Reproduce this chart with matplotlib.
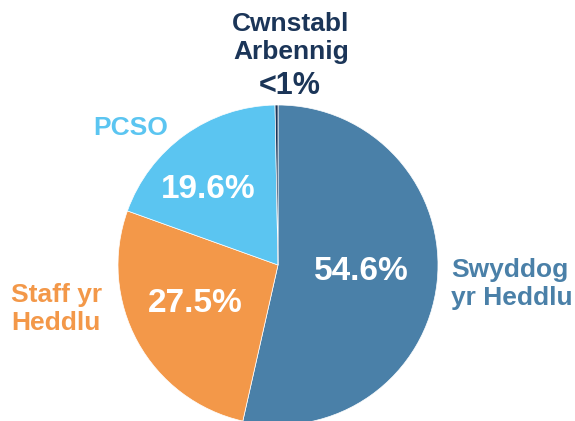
import matplotlib.pyplot as plt

# slice order: clockwise from 12 o'clock
labels = ["Swyddog\nyr Heddlu", "Staff yr\nHeddlu", "PCSO", "Cwnstabl\nArbennig"]
shares = [54.6, 27.5, 19.6, 0.3]
pct_text = ["54.6%", "27.5%", "19.6%", "<1%"]
colors = ["#4a80a8", "#f39849", "#5bc5f1", "#1b3558"]

W, H = 575, 421
fig = plt.figure(figsize=(W / 100, H / 100), dpi=100)
ax = fig.add_axes([0, 0, 1, 1])

cx, cy, r = 278, H - 265, 160
wedges, _ = ax.pie(shares, colors=colors, startangle=90, counterclock=False,
                   center=(cx, cy), radius=r,
                   wedgeprops=dict(linewidth=0.5, edgecolor="white"))
ax.set_xlim(0, W)
ax.set_ylim(0, H)
ax.axis("off")

font = dict(family="Liberation Sans", fontweight="bold")

# percentages inside slices
pct_pos = [(361, 272), (195, 303), (208, 189)]
for (x, y), t in zip(pct_pos, pct_text[:3]):
    ax.text(x, H - y, t, color="white", fontsize=24, ha="center", va="center", **font)

# outside labels
ax.text(291, H - 38, labels[3], color=colors[3], fontsize=19, ha="center",
        va="center", linespacing=1.2, **font)
ax.text(290, H - 86, pct_text[3], color=colors[3], fontsize=22, ha="center",
        va="center", **font)
ax.text(131, H - 128, labels[2], color=colors[2], fontsize=19, ha="center",
        va="center", **font)
ax.text(11, H - 309, labels[1], color=colors[1], fontsize=19, ha="left",
        va="center", linespacing=1.2, **font)
ax.text(451, H - 284, labels[0], color=colors[0], fontsize=19, ha="left",
        va="center", linespacing=1.2, **font)

fig.savefig("out.png", dpi=100)
